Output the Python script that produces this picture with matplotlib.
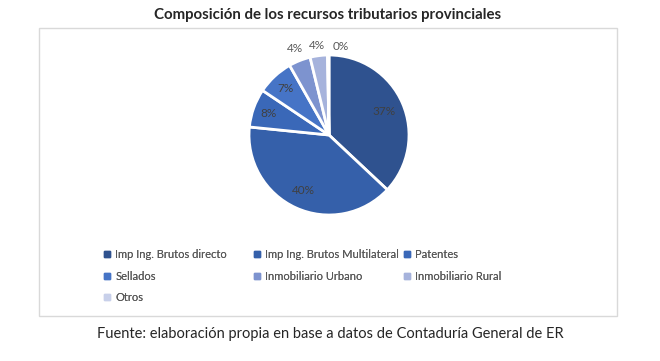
import matplotlib
matplotlib.use("Agg")
import matplotlib.pyplot as plt
from matplotlib.lines import Line2D
from matplotlib.patches import Rectangle
import numpy as np

plt.rcParams['font.family'] = ['Lato', 'DejaVu Sans']

categories = ["Imp Ing. Brutos directo", "Imp Ing. Brutos Multilateral", "Patentes",
              "Sellados", "Inmobiliario Urbano", "Inmobiliario Rural", "Otros"]
values = [37.0, 39.6, 7.8, 7.4, 4.4, 3.5, 0.3]
colors = ["#2F528F", "#3560AA", "#3A68B8", "#4674C6", "#7D93CF", "#A6B3DC", "#C8D0EA"]
title = "Composición de los recursos tributarios provinciales"
source = "Fuente: elaboración propia en base a datos de Contaduría General de ER"

W, H = 660, 361
fig = plt.figure(figsize=(W / 100, H / 100), dpi=100)

# frame
fig.patches.append(Rectangle((39 / W, 1 - 316 / H), (617 - 39) / W, (316 - 28) / H,
                             transform=fig.transFigure, fill=False,
                             edgecolor="#D9D9D9", linewidth=1.0))

cx, cy, r = 329, 135, 80
ax = fig.add_axes([(cx - r) / W, 1 - (cy + r) / H, 2 * r / W, 2 * r / H])
wedges, _ = ax.pie(values, colors=colors, startangle=90, counterclock=False,
                   radius=1.0, wedgeprops=dict(edgecolor="white", linewidth=2))
ax.set_xlim(-1, 1)
ax.set_ylim(-1, 1)
ax.axis("off")

dists = [0.75, 0.76, 0.8, 0.8, 1.16, 1.13, 1.12]
offsets = [0, 0, 0, 0, 0, 0, 8]
total = sum(values)
for w, v, d, off in zip(wedges, values, dists, offsets):
    th = np.deg2rad((w.theta1 + w.theta2) / 2 - off)
    col = "#404040" if d < 1 else "#595959"
    ax.text(d * np.cos(th), d * np.sin(th), f"{v / total * 100:.0f}%",
            ha="center", va="center", fontsize=8.5, color=col)

fig.text(0.496, 1 - 15 / H, title, ha="center", va="center", fontsize=10.8,
         fontweight="bold", color="#262626")

# legend in three columns, filled row-wise
col_x = [104, 254, 404]
ncol = 3
for c in range(ncol):
    idx = list(range(c, len(categories), ncol))
    handles = [Line2D([], [], marker="s", linestyle="none", markersize=4,
                      markerfacecolor=colors[i], markeredgecolor=colors[i]) for i in idx]
    leg = fig.legend(handles, [categories[i] for i in idx], loc="upper left",
                     bbox_to_anchor=(col_x[c] / W, 1 - 249 / H), frameon=False,
                     fontsize=8, handlelength=0.6, handletextpad=0.4,
                     labelspacing=0.95, borderpad=0, borderaxespad=0,
                     labelcolor="#595959")
    fig.add_artist(leg)

fig.text(0.5, 1 - 334 / H, source, ha="center", va="center", fontsize=10.5,
         color="#262626")

fig.savefig("out.png", dpi=100, facecolor="white")
